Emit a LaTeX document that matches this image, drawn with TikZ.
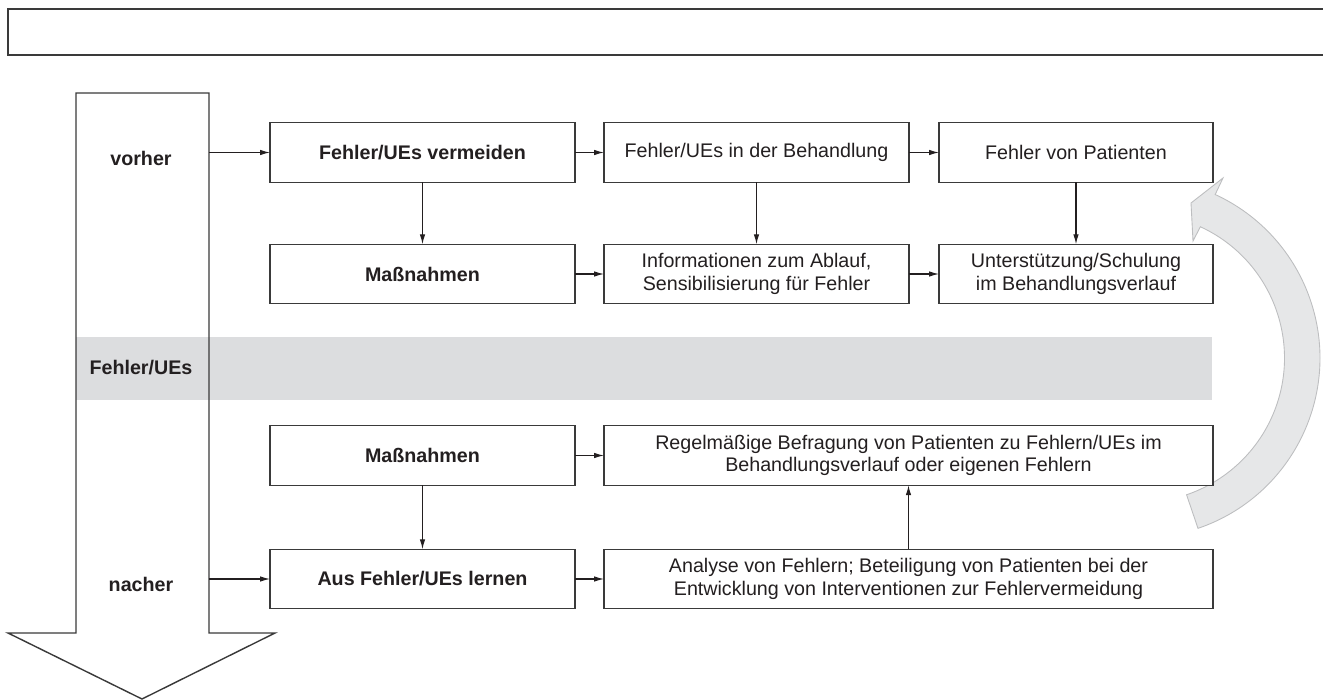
\documentclass[tikz,border=0pt]{standalone}
\usepackage{fontspec}
\setmainfont{Liberation Sans}
\usetikzlibrary{arrows.meta,calc}
\definecolor{ink}{HTML}{231F20}
\definecolor{boxline}{HTML}{3A3A3A}
\definecolor{band}{HTML}{DCDDDF}
\definecolor{arcfill}{HTML}{E6E7E8}
\definecolor{arcline}{HTML}{BDBEC0}
\begin{document}
\begin{tikzpicture}[x=0.02cm,y=-0.02cm,
  box/.style={draw=boxline, line width=0.8pt, fill=white, minimum height=1.19cm, align=center, inner sep=2pt, outer sep=0pt, text=ink, font=\fontsize{11.2}{12.8}\selectfont},
  boxA/.style={box, minimum width=6.1cm, font=\fontsize{11.2}{12.8}\selectfont\bfseries},
  boxB/.style={box, minimum width=6.1cm},
  boxC/.style={box, minimum width=5.48cm},
  boxW/.style={box, minimum width=12.18cm},
  conn/.style={draw=ink, line width=0.6pt, -{Latex[length=2mm,width=1.1mm]}},
  lbl/.style={text=ink, inner sep=0pt, font=\fontsize{11.2}{12.8}\selectfont\bfseries},
  outline/.style={draw=boxline, line width=0.8pt}
]
\useasboundingbox (0,0) rectangle (1323,700);
% empty title frame (open to the right, cut by the page edge)
\begin{scope}
\clip (0,0) rectangle (1323,700);
\draw[outline] (1340,9) -- (8,9) -- (8,55) -- (1340,55);
\end{scope}
% big downward arrow (background)
\fill[white] (76,93) -- (209,93) -- (209,633) -- (275,633) -- (142,699) -- (8,633) -- (76,633) -- cycle;
% grey band
\fill[band] (76,337) rectangle (1212,400);
% big downward arrow outline
\draw[outline, line join=miter] (76,93) -- (209,93) -- (209,633) -- (275,633) -- (142,699) -- (8,633) -- (76,633) -- cycle;
% labels in the arrow
\node[lbl] (vorher) at (141,158) {vorher};
\node[lbl] (fehler) at (141,367.5) {Fehler/UEs};
\node[lbl] (nacher) at (141,584) {nacher};
\coordinate (shaftV) at (209,152.5);
\coordinate (shaftN) at (209,579);
% curved grey arrow
\coordinate (cc) at (1140,358);
\filldraw[fill=arcfill, draw=arcline, line width=0.5pt, line join=miter]
  ($(cc)+(-71.2:3.6cm)$) arc[start angle=-71.2, end angle=65.3, radius=3.6cm]
  -- (1223,178) -- (1191,203) -- (1193,241)
  -- ($(cc)+(65.3:2.89cm)$) arc[start angle=65.3, end angle=-71.2, radius=2.89cm] -- cycle;
% boxes
\node[boxA] (a1) at (422.5,152.5) {Fehler/UEs vermeiden};
\node[boxB] (b1) at (756.5,152.5) {Fehler/UEs in der Behandlung};
\node[boxC] (c1) at (1076,152.5) {Fehler von Patienten};
\node[boxA] (a2) at (422.5,274) {Maßnahmen};
\node[boxB] (b2) at (756.5,274) {Informationen zum Ablauf,\\Sensibilisierung für Fehler};
\node[boxC] (c2) at (1076,274) {Unterstützung/Schulung\\im Behandlungsverlauf};
\node[boxA] (a3) at (422.5,455.5) {Maßnahmen};
\node[boxW] (w3) at (908.5,455.5) {Regelmäßige Befragung von Patienten zu Fehlern/UEs im\\Behandlungsverlauf oder eigenen Fehlern};
\node[boxA] (a4) at (422.5,579) {Aus Fehler/UEs lernen};
\node[boxW] (w4) at (908.5,579) {Analyse von Fehlern; Beteiligung von Patienten bei der\\Entwicklung von Interventionen zur Fehlervermeidung};
% connectors
\draw[conn] (shaftV) -- (a1.west);
\draw[conn] (a1.east) -- (b1.west);
\draw[conn] (b1.east) -- (c1.west);
\draw[conn] (a1.south) -- (a2.north);
\draw[conn] (b1.south) -- (b2.north);
\draw[conn] (c1.south) -- (c2.north);
\draw[conn] (a2.east) -- (b2.west);
\draw[conn] (b2.east) -- (c2.west);
\draw[conn] (a3.east) -- (w3.west);
\draw[conn] (a3.south) -- (a4.north);
\draw[conn] (shaftN) -- (a4.west);
\draw[conn] (a4.east) -- (w4.west);
\draw[conn] (w4.north) -- (w3.south);
\end{tikzpicture}
\end{document}
